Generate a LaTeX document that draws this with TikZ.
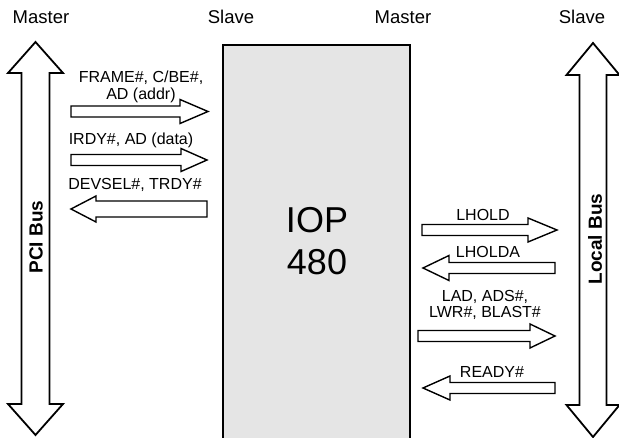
\documentclass[tikz,border=0pt]{standalone}
\usepackage{fontspec}
\setmainfont{Liberation Sans}
\usetikzlibrary{positioning,calc}

% signal arrow: #1 tail x, #2 tip x, #3 y, #4 shaft half, #5 head half, #6 head base x
\newcommand{\sigarrow}[6]{%
  \draw[sigline] (#1,#3-#4) -- (#6,#3-#4) -- (#6,#3-#5) -- (#2,#3)
    -- (#6,#3+#5) -- (#6,#3+#4) -- (#1,#3+#4) -- cycle;}

% bus arrow: #1 centre x, #2 top tip y, #3 bottom tip y, #4 shaft half, #5 head half, #6 head length
\newcommand{\busarrow}[6]{%
  \draw[busline] (#1,#2) -- (#1+#5,#2+#6) -- (#1+#4,#2+#6) -- (#1+#4,#3-#6)
    -- (#1+#5,#3-#6) -- (#1,#3) -- (#1-#5,#3-#6) -- (#1-#4,#3-#6)
    -- (#1-#4,#2+#6) -- (#1-#5,#2+#6) -- cycle;}

\begin{document}
\begin{tikzpicture}[
    x=1pt, y=-1pt,
    busline/.style={draw=black, fill=white, line width=1.8pt},
    sigline/.style={draw=black, fill=white, line width=1.4pt},
    chipbox/.style={draw=black, fill=black!10, line width=1.8pt},
    head/.style={font=\fontsize{18.5}{20}\selectfont, inner sep=0pt},
    lbl/.style={font=\fontsize{16}{16.5}\selectfont, align=center, inner sep=0pt},
    busname/.style={font=\fontsize{19}{20}\selectfont\bfseries, rotate=90, inner sep=0pt}
]
    \useasboundingbox (0,0) rectangle (619,438);

    % Rollen oben
    \node[head] (m1) at (41,17) {Master};
    \node[head] (s1) at (231,17) {Slave};
    \node[head] (m2) at (403,17) {Master};
    \node[head] (s2) at (582,17) {Slave};

    % Busse
    \busarrow{35.5}{42}{435}{14}{27.5}{31}
    \node[busname] (pci) at (36,237) {PCI Bus};
    \busarrow{593}{43}{437}{13.5}{26.5}{32}
    \node[busname] (lbus) at (595,239) {Local Bus};

    % Baustein
    \draw[chipbox] (223,45) rectangle (410,450);
    \node[font=\fontsize{36}{42}\selectfont, align=center, inner sep=0pt] (iop) at (317,241) {IOP\\480};

    % PCI-Seite
    \sigarrow{71}{208}{111.5}{5.5}{12}{180}
    \node[lbl] (frame) at (141,87) {FRAME\#, C/BE\#,\\AD (addr)};
    \sigarrow{71}{207}{160}{5.5}{11.5}{181}
    \node[lbl] (irdy) at (131,140) {IRDY\#, AD (data)};
    \sigarrow{207}{71}{209}{8}{13}{96}
    \node[lbl] (devsel) at (135,185) {DEVSEL\#, TRDY\#};

    % Lokale Seite
    \sigarrow{422}{557}{230}{5.5}{12}{528}
    \node[lbl] (lhold) at (483,215) {LHOLD};
    \sigarrow{555}{423}{268}{5.5}{12.5}{449}
    \node[lbl] (lholda) at (488,252) {LHOLDA};
    \sigarrow{418}{555}{336}{5.5}{12}{530}
    \node[lbl] (lad) at (485,305) {LAD, ADS\#,\\LWR\#, BLAST\#};
    \sigarrow{555}{423}{388}{5.5}{12}{450}
    \node[lbl] (ready) at (492,372) {READY\#};

\end{tikzpicture}
\end{document}
